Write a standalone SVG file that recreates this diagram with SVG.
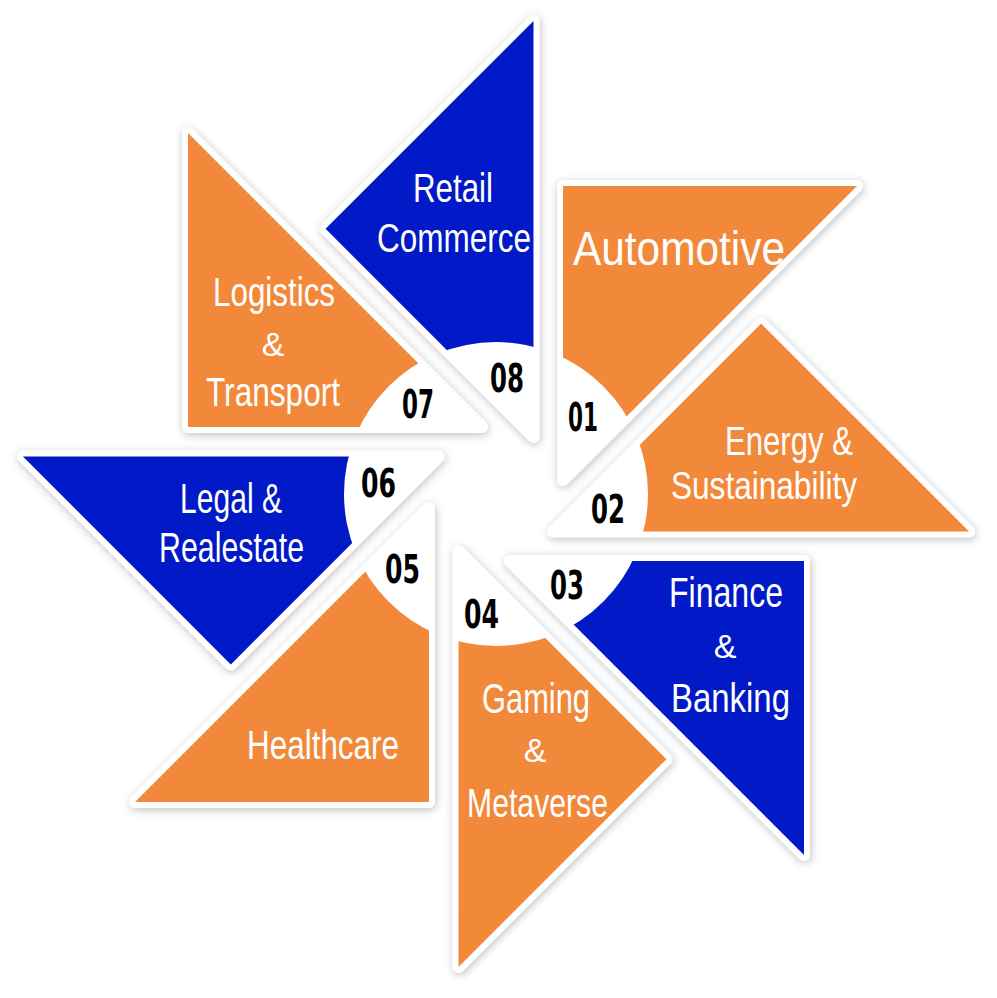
<svg xmlns="http://www.w3.org/2000/svg" xmlns:xlink="http://www.w3.org/1999/xlink" width="997" height="998" viewBox="0 0 997 998">
<style>
.base{fill:#fff;stroke:#fff;stroke-width:12;stroke-linejoin:round}
.or{fill:#F2893A}
.bl{fill:#0119C6}
.lbl{font-family:"Liberation Sans","Open Sans",sans-serif;fill:#fff;font-weight:400}
.amp{font-family:"Liberation Sans","Open Sans",sans-serif;fill:#fff;font-size:34px;text-anchor:middle}
.num{font-family:"Liberation Sans Narrow","DejaVu Sans Condensed","Liberation Sans",sans-serif;font-weight:700;font-size:39px;fill:#000}
</style>
<defs>
<path id="tri" d="M563,186 L857,186 L563,480 Z"/>
<mask id="hole" maskUnits="userSpaceOnUse" maskContentUnits="userSpaceOnUse" x="-600" y="-600" width="2200" height="2200">
<rect x="-600" y="-600" width="2200" height="2200" fill="#fff"/>
<circle cx="496" cy="494" r="152" fill="#000"/>
</mask>
<filter id="sh" x="-20%" y="-20%" width="140%" height="140%">
<feDropShadow dx="1" dy="2" stdDeviation="4" flood-color="#000" flood-opacity="0.25"/>
</filter>
</defs>
<rect width="997" height="998" fill="#fff"/>
<g id="connectors"/>

<g id="node1">
<g filter="url(#sh)"><use xlink:href="#tri" class="base"/></g>
<g mask="url(#hole)"><use xlink:href="#tri" class="or"/></g>
<text class="lbl" x="573" y="265" font-size="49" textLength="212" lengthAdjust="spacingAndGlyphs">Automotive</text>
<text class="num" x="568" y="431" textLength="30" lengthAdjust="spacingAndGlyphs">01</text>
</g>

<g id="node2">
<g filter="url(#sh)"><use xlink:href="#tri" class="base" transform="rotate(45 496 494)"/></g>
<g transform="rotate(45 496 494)" mask="url(#hole)"><use xlink:href="#tri" class="or"/></g>
<text class="lbl" x="725" y="455" font-size="41" textLength="128" lengthAdjust="spacingAndGlyphs">Energy &amp;</text>
<text class="lbl" x="671" y="499" font-size="38" textLength="186" lengthAdjust="spacingAndGlyphs">Sustainability</text>
<text class="num" x="591" y="523" textLength="34" lengthAdjust="spacingAndGlyphs">02</text>
</g>

<g id="node3">
<g filter="url(#sh)"><use xlink:href="#tri" class="base" transform="rotate(90 496 494)"/></g>
<g transform="rotate(90 496 494)" mask="url(#hole)"><use xlink:href="#tri" class="bl"/></g>
<text class="lbl" x="669" y="607" font-size="43" textLength="114" lengthAdjust="spacingAndGlyphs">Finance</text>
<text class="amp" x="725" y="658">&amp;</text>
<text class="lbl" x="671" y="712" font-size="41" textLength="119" lengthAdjust="spacingAndGlyphs">Banking</text>
<text class="num" x="550" y="599" textLength="34" lengthAdjust="spacingAndGlyphs">03</text>
</g>

<g id="node4">
<g filter="url(#sh)"><use xlink:href="#tri" class="base" transform="rotate(135 496 494)"/></g>
<g transform="rotate(135 496 494)" mask="url(#hole)"><use xlink:href="#tri" class="or"/></g>
<text class="lbl" x="482" y="713" font-size="42" textLength="108" lengthAdjust="spacingAndGlyphs">Gaming</text>
<text class="amp" x="535" y="762">&amp;</text>
<text class="lbl" x="467" y="817" font-size="41" textLength="141" lengthAdjust="spacingAndGlyphs">Metaverse</text>
<text class="num" x="464" y="628" textLength="35" lengthAdjust="spacingAndGlyphs">04</text>
</g>

<g id="node5">
<g filter="url(#sh)"><use xlink:href="#tri" class="base" transform="rotate(180 496 494)"/></g>
<g transform="rotate(180 496 494)" mask="url(#hole)"><use xlink:href="#tri" class="or"/></g>
<text class="lbl" x="247" y="759" font-size="40" textLength="152" lengthAdjust="spacingAndGlyphs">Healthcare</text>
<text class="num" x="385" y="583" textLength="35" lengthAdjust="spacingAndGlyphs">05</text>
</g>

<g id="node6">
<g filter="url(#sh)"><use xlink:href="#tri" class="base" transform="rotate(225 496 494)"/></g>
<g transform="rotate(225 496 494)" mask="url(#hole)"><use xlink:href="#tri" class="bl"/></g>
<text class="lbl" x="180" y="513" font-size="42" textLength="102" lengthAdjust="spacingAndGlyphs">Legal &amp;</text>
<text class="lbl" x="159" y="562" font-size="42" textLength="145" lengthAdjust="spacingAndGlyphs">Realestate</text>
<text class="num" x="361" y="497" textLength="35" lengthAdjust="spacingAndGlyphs">06</text>
</g>

<g id="node7">
<g filter="url(#sh)"><use xlink:href="#tri" class="base" transform="rotate(270 496 494)"/></g>
<g transform="rotate(270 496 494)" mask="url(#hole)"><use xlink:href="#tri" class="or"/></g>
<text class="lbl" x="213" y="306" font-size="40" textLength="122" lengthAdjust="spacingAndGlyphs">Logistics</text>
<text class="amp" x="273" y="356">&amp;</text>
<text class="lbl" x="206" y="406" font-size="40" textLength="134" lengthAdjust="spacingAndGlyphs">Transport</text>
<text class="num" x="402" y="418" textLength="32" lengthAdjust="spacingAndGlyphs">07</text>
</g>

<g id="node8">
<g filter="url(#sh)"><use xlink:href="#tri" class="base" transform="rotate(315 496 494)"/></g>
<g transform="rotate(315 496 494)" mask="url(#hole)"><use xlink:href="#tri" class="bl"/></g>
<text class="lbl" x="413" y="202" font-size="40" textLength="80" lengthAdjust="spacingAndGlyphs">Retail</text>
<text class="lbl" x="377" y="252" font-size="40" textLength="154" lengthAdjust="spacingAndGlyphs">Commerce</text>
<text class="num" x="490" y="392" textLength="34" lengthAdjust="spacingAndGlyphs">08</text>
</g>
</svg>
